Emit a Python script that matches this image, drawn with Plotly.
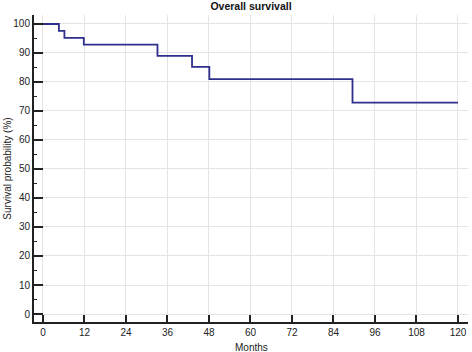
import plotly.graph_objects as go

months = [0, 4.6, 6.2, 11.8, 33.1, 43.1, 48.1, 89.5, 120]
survival = [100, 97.6, 95.2, 92.9, 89.0, 85.2, 81.0, 72.9, 72.9]
x_ticks = list(range(0, 121, 12))
y_ticks = list(range(0, 101, 10))

fig = go.Figure()
fig.add_trace(go.Scatter(x=months, y=survival, mode="lines", line_shape="hv",
                         line=dict(color="#2e2e8c", width=1.8), showlegend=False,
                         hoverinfo="skip"))

fig.update_layout(
    width=472, height=352,
    margin=dict(l=34, r=4, t=15, b=30, autoexpand=False),
    paper_bgcolor="white", plot_bgcolor="white",
    font=dict(family="Liberation Sans, Arial, sans-serif", size=10, color="#222"),
    title=dict(text="<b>Overall survivall</b>", x=0.5, xref="paper", xanchor="center",
               y=1 - 6 / 352, yref="container", yanchor="middle",
               font=dict(size=10.5, color="#111")),
    annotations=[
        dict(text="Months", x=0.5, xref="paper", xanchor="center",
             y=-(347 - 322) / (352 - 15 - 30), yref="paper", yanchor="middle",
             showarrow=False, font=dict(size=10, color="#222")),
    ],
)
fig.update_xaxes(range=[-2.6, 122.9], tickvals=x_ticks, ticks="inside", ticklen=7,
                 tickcolor="#222", tickwidth=1.5, automargin=False,
                 showline=True, linecolor="#222", linewidth=2,
                 showgrid=True, gridcolor="#e4e4e4", gridwidth=1, zeroline=False)
fig.update_yaxes(range=[-2.76, 103.1], tickvals=y_ticks, ticks="inside", ticklen=9,
                 tickcolor="#222", tickwidth=1.5, automargin=False,
                 showline=True, linecolor="#222", linewidth=2,
                 showgrid=True, gridcolor="#e4e4e4", gridwidth=1, zeroline=False,
                 minor=dict(dtick=5, tick0=0, ticks="inside", ticklen=3, tickcolor="#222",
                            tickwidth=1, showgrid=False),
                 title=dict(text="Survival probability (%)", standoff=0,
                            font=dict(size=10, color="#222")))

fig.write_html("out.html", config={"displayModeBar": False},
               post_script="document.body.style.margin='0px';")
